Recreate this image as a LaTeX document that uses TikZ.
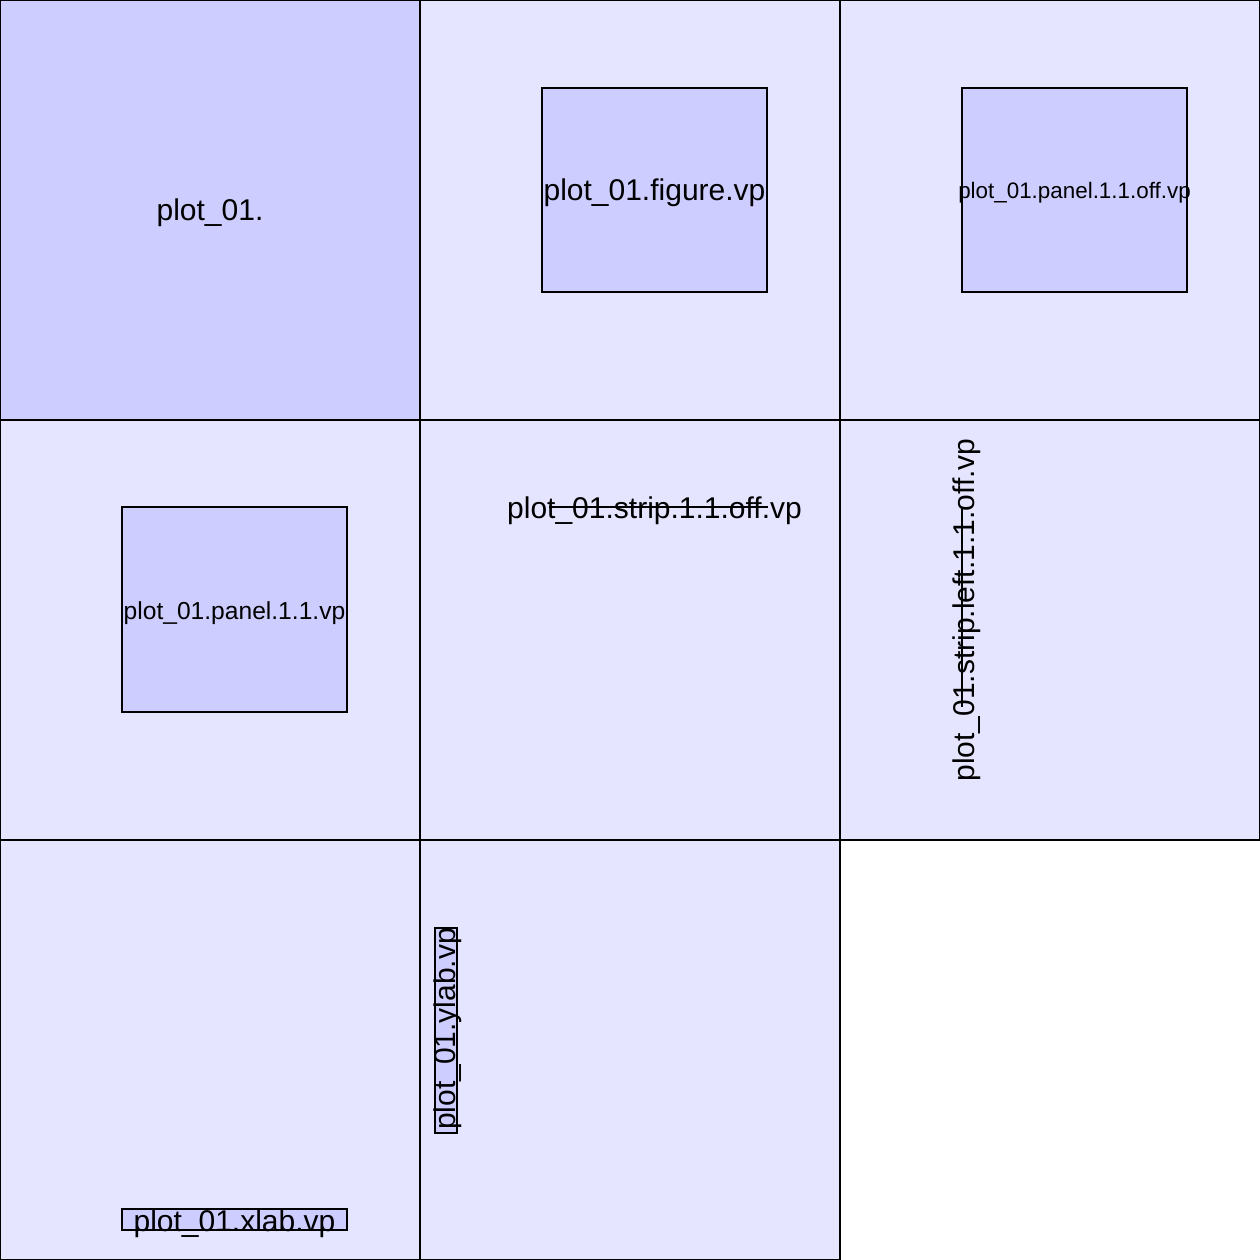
\documentclass[tikz,border=0pt]{standalone}
\usepackage{fontspec}
\setmainfont{Liberation Sans}
\definecolor{cellfill}{RGB}{229,229,255}
\definecolor{boxfill}{RGB}{205,205,255}
\begin{document}
\begin{tikzpicture}[x=0.5pt,y=-0.5pt,
  cell/.style={draw=black,line width=1pt,fill=cellfill,minimum width=210pt,minimum height=210pt,inner sep=0pt,outer sep=0pt},
  vpbox/.style={draw=black,line width=1pt,fill=boxfill,inner sep=0pt,outer sep=0pt},
  bigtxt/.style={inner sep=0pt,font=\fontsize{15pt}{18pt}\selectfont},
  stripline/.style={draw=black,line width=1pt}
]
\useasboundingbox (0,0) rectangle (1260,1260);
% cells
\node[cell,fill=boxfill] (c11) at (210,210) {};
\node[cell] (c12) at (630,210) {};
\node[cell] (c13) at (1050,210) {};
\node[cell] (c21) at (210,630) {};
\node[cell] (c22) at (630,630) {};
\node[cell] (c23) at (1050,630) {};
\node[cell] (c31) at (210,1050) {};
\node[cell] (c32) at (630,1050) {};
% inner viewports
\node[vpbox,minimum width=112.5pt,minimum height=102pt] (fig) at (654.5,190) {};
\node[vpbox,minimum width=112.5pt,minimum height=102pt] (poff) at (1074.5,190) {};
\node[vpbox,minimum width=112.5pt,minimum height=102.5pt] (pan) at (234.5,609.5) {};
\node[vpbox,minimum width=112.5pt,minimum height=10.5pt] (xlab) at (234.5,1219.5) {};
\node[vpbox,minimum width=11pt,minimum height=102.5pt] (ylab) at (446,1030.5) {};
% strip viewports (zero extent)
\coordinate (sA) at (549,507);
\coordinate (sB) at (768,507);
\coordinate (lA) at (962,507);
\coordinate (lB) at (962,707);
\draw[stripline] (sA) -- (sB);
\draw[stripline] (lA) -- (lB);
% labels
\node[bigtxt] (t11) at (210,213) {plot\_01.};
\node[bigtxt] (tfig) at (654.5,193) {plot\_01.figure.vp};
\node[inner sep=0pt,font=\fontsize{11.2pt}{13pt}\selectfont] (tpoff) at (1074.5,193) {plot\_01.panel.1.1.off.vp};
\node[inner sep=0pt,font=\fontsize{12.3pt}{14pt}\selectfont] (tpan) at (234.5,613) {plot\_01.panel.1.1.vp};
\node[bigtxt] (tstrip) at (654.5,511) {plot\_01.strip.1.1.off.vp};
\node[bigtxt,rotate=90] (tleft) at (967,610) {plot\_01.strip.left.1.1.off.vp};
\node[bigtxt] (txlab) at (234.5,1223.5) {plot\_01.xlab.vp};
\node[bigtxt,rotate=90] (tylab) at (448,1029) {plot\_01.ylab.vp};
\end{tikzpicture}
\end{document}
